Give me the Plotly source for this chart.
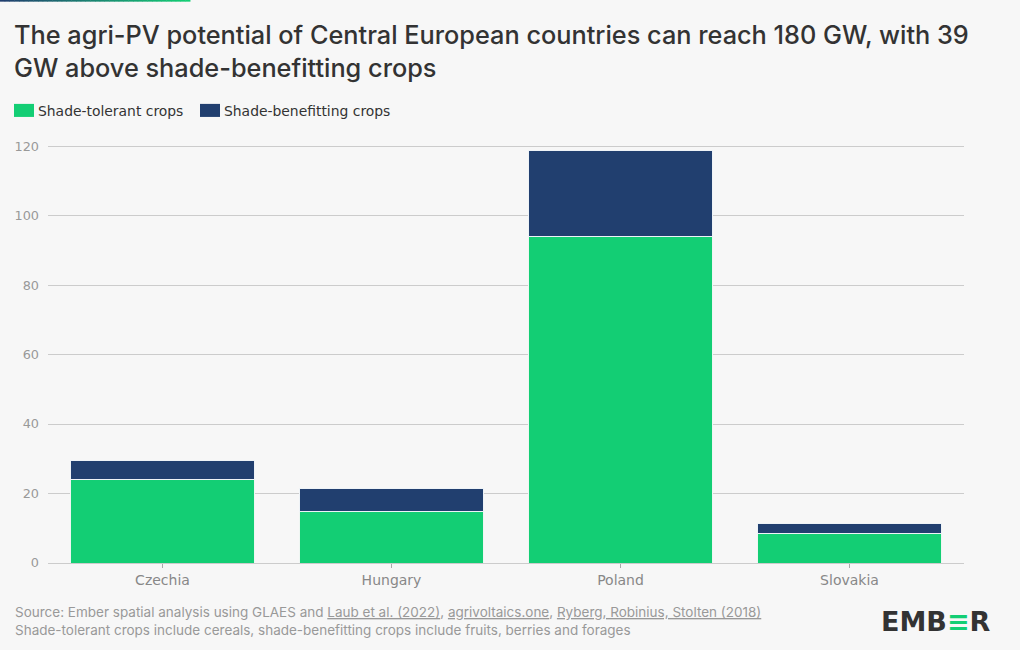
import plotly.graph_objects as go

countries = ["Czechia", "Hungary", "Poland", "Slovakia"]
shade_tolerant = [23.9, 14.7, 94.1, 8.6]
shade_benefitting = [5.7, 6.6, 24.5, 2.9]
y_ticks = [0, 20, 40, 60, 80, 100, 120]
series_names = ["Shade-tolerant crops", "Shade-benefitting crops"]

GREEN = "#13ce74"
NAVY = "#213f6f"
BG = "#f7f7f7"
FONT = "Inter"
WIDE = "DejaVu Sans"

# plot area in pixels
L, R, T, B = 48, 964, 146, 563
PW, PH = R - L, B - T


def px(x):
    return (x - L) / PW


def py(y):
    return (B - y) / PH


fig = go.Figure()
fig.add_trace(go.Bar(x=countries, y=shade_tolerant, name=series_names[0],
                     marker=dict(color=GREEN, line=dict(color="#eef6f2", width=1))))
fig.add_trace(go.Bar(x=countries, y=shade_benefitting, name=series_names[1],
                     marker=dict(color=NAVY, line=dict(color="#eef3f7", width=1))))

fig.update_layout(
    barmode="stack", bargap=0.2, showlegend=False,
    width=1020, height=650,
    paper_bgcolor=BG, plot_bgcolor=BG,
    margin=dict(l=L, r=1020 - R, t=T - 1, b=650 - B),
    font=dict(family=WIDE, color="#333333", size=13),
    xaxis=dict(showgrid=False, ticks="outside", ticklen=4, tickcolor="#aaaaaa",
               showline=True, linecolor="#cccccc", linewidth=1,
               tickfont=dict(color="#888888", size=14, family=WIDE)),
    yaxis=dict(range=[0, 120.3], tickvals=y_ticks, gridcolor="#cccccc", gridwidth=1,
               zeroline=False, showline=False, ticks="",
               tickfont=dict(color="#999999", size=12.8, family=WIDE), ticklabelstandoff=8),
)

# title
fig.add_annotation(
    text="The agri-PV potential of Central European countries can reach 180 GW, with 39<br>GW above shade-benefitting crops",
    xref="paper", yref="paper", x=px(12), y=py(18), xanchor="left", yanchor="top",
    align="left", showarrow=False,
    font=dict(family=FONT, size=25.3, color="#333333", weight=500),
)

# legend (custom rectangles)
legend_items = [(14, GREEN, series_names[0]), (200, NAVY, series_names[1])]
for x0, col, name in legend_items:
    fig.add_shape(type="rect", xref="paper", yref="paper",
                  x0=px(x0), x1=px(x0 + 20), y0=py(118), y1=py(105),
                  line=dict(width=0), fillcolor=col)
    fig.add_annotation(text=name, xref="paper", yref="paper", x=px(x0 + 22), y=py(112),
                       xanchor="left", yanchor="middle", showarrow=False,
                       font=dict(family=WIDE, size=13.9, color="#333333"))

# top gradient strip
n = 40
c0 = (0x21, 0x3f, 0x6f)
c1 = (0x13, 0xce, 0x74)
for i in range(n):
    t = i / (n - 1)
    col = "rgb(%d,%d,%d)" % tuple(int(a + (b - a) * t) for a, b in zip(c0, c1))
    fig.add_shape(type="rect", xref="paper", yref="paper",
                  x0=px(190 * i / n), x1=px(190 * (i + 1) / n) + 0.0005,
                  y0=py(0), y1=py(3),
                  line=dict(width=0), fillcolor=col, layer="above")

# footer
fig.add_annotation(
    text="Source: Ember spatial analysis using GLAES and <u>Laub et al. (2022)</u>, <u>agrivoltaics.one</u>, <u>Ryberg, Robinius, Stolten (2018)</u>"
         "<br>Shade-tolerant crops include cereals, shade-benefitting crops include fruits, berries and forages",
    xref="paper", yref="paper", x=px(13), y=py(620.5),
    xanchor="left", yanchor="middle", align="left", showarrow=False,
    font=dict(size=13.5, color="#999999", family=FONT),
)
fig.add_annotation(
    text="<b>EMB<span style='color:%s'>≡</span>R</b>" % GREEN,
    xref="paper", yref="paper", x=px(993), y=py(621),
    xanchor="right", yanchor="middle", showarrow=False,
    font=dict(size=27, color="#333333", family="DejaVu Sans"),
)

fig.write_html("out.html")
